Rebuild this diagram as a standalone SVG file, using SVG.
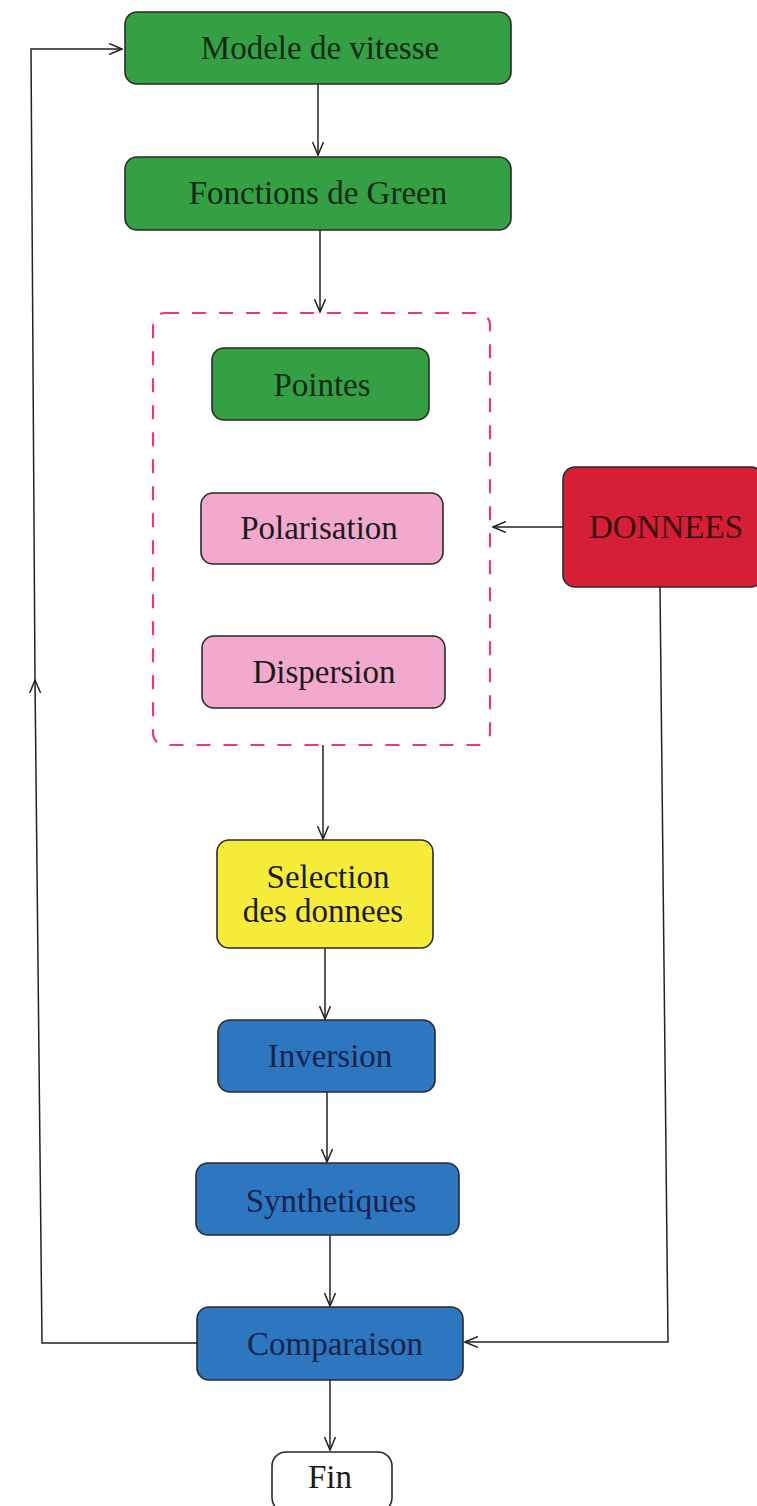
<svg xmlns="http://www.w3.org/2000/svg" width="757" height="1506" viewBox="0 0 757 1506">
<defs>
<marker id="arr" viewBox="0 0 14 12" refX="13" refY="6" markerWidth="14" markerHeight="12" markerUnits="userSpaceOnUse" orient="auto">
<path d="M0,0.5 L13,6 L0,11.5" fill="none" stroke="#222" stroke-width="1.5"/>
</marker>
<style>
.box{stroke:#2a2a2a;stroke-width:1.6}
.green{fill:#34a043}
.pink{fill:#f3a9cd}
.red{fill:#d61f36}
.yellow{fill:#f8ec3a}
.blue{fill:#2c77bf}
.white{fill:#ffffff}
.t{font-family:"Liberation Serif","Times New Roman",serif;font-size:33px;text-anchor:middle}
.tg{fill:#0e2a14}
.tb{fill:#16224e}
.tk{fill:#1a1a1a}
.tr{fill:#3a0c10}
.conn{fill:none;stroke:#222;stroke-width:1.5}
.dash{fill:none;stroke:#e0406a;stroke-width:2.2;stroke-dasharray:14 13}
</style>
</defs>
<rect width="757" height="1506" fill="#ffffff"/>

<g id="connectors">
<path class="conn" d="M318,84 L318,155" marker-end="url(#arr)"/>
<path class="conn" d="M320,230 L320,312" marker-end="url(#arr)"/>
<path class="conn" d="M323,745 L323,839" marker-end="url(#arr)"/>
<path class="conn" d="M325,948 L325,1019" marker-end="url(#arr)"/>
<path class="conn" d="M327,1092 L327,1162" marker-end="url(#arr)"/>
<path class="conn" d="M330,1235 L330,1306" marker-end="url(#arr)"/>
<path class="conn" d="M330,1380 L330,1450" marker-end="url(#arr)"/>
<path class="conn" d="M563,527 L493,527" marker-end="url(#arr)"/>
<path class="conn" d="M660,587 L668,1342 L465,1342" marker-end="url(#arr)"/>
<path class="conn" d="M197,1343 L42,1343 L35,680" marker-end="url(#arr)"/>
<path class="conn" d="M35,680 L31,49 L122,49" marker-end="url(#arr)"/>
</g>

<g id="group-box">
<rect class="dash" x="153" y="313" width="337" height="432" rx="12"/>
</g>

<g id="modele">
<rect class="box green" x="125" y="12" width="386" height="72" rx="12"/>
<text class="t tg" x="320" y="59">Modele de vitesse</text>
</g>
<g id="fonctions">
<rect class="box green" x="125" y="157" width="386" height="73" rx="12"/>
<text class="t tg" x="318" y="204">Fonctions de Green</text>
</g>
<g id="pointes">
<rect class="box green" x="212" y="348" width="217" height="72" rx="12"/>
<text class="t tg" x="322" y="396">Pointes</text>
</g>
<g id="polarisation">
<rect class="box pink" x="201" y="493" width="242" height="71" rx="12"/>
<text class="t tk" x="319" y="539">Polarisation</text>
</g>
<g id="dispersion">
<rect class="box pink" x="202" y="636" width="243" height="72" rx="12"/>
<text class="t tk" x="324" y="683">Dispersion</text>
</g>
<g id="donnees">
<rect class="box red" x="563" y="467" width="200" height="120" rx="12"/>
<text class="t tr" x="666" y="538">DONNEES</text>
</g>
<g id="selection">
<rect class="box yellow" x="217" y="840" width="216" height="108" rx="12"/>
<text class="t tk" x="328" y="888">Selection</text>
<text class="t tk" x="323" y="922">des donnees</text>
</g>
<g id="inversion">
<rect class="box blue" x="218" y="1020" width="217" height="72" rx="12"/>
<text class="t tb" x="330" y="1067">Inversion</text>
</g>
<g id="synthetiques">
<rect class="box blue" x="196" y="1163" width="263" height="72" rx="12"/>
<text class="t tb" x="331" y="1212">Synthetiques</text>
</g>
<g id="comparaison">
<rect class="box blue" x="197" y="1307" width="266" height="73" rx="12"/>
<text class="t tb" x="335" y="1355">Comparaison</text>
</g>
<g id="fin">
<rect class="box white" x="272" y="1452" width="120" height="60" rx="14"/>
<text class="t tk" x="330" y="1488">Fin</text>
</g>
</svg>
